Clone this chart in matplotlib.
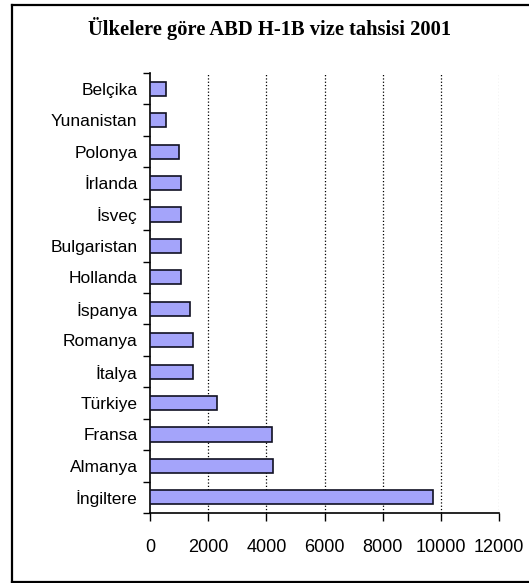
import numpy as np
import matplotlib
matplotlib.use('Agg')
import matplotlib.pyplot as plt
from matplotlib.lines import Line2D

# Datos (de arriba a abajo)
ulkeler = ['Belçika', 'Yunanistan', 'Polonya', 'İrlanda', 'İsveç', 'Bulgaristan',
           'Hollanda', 'İspanya', 'Romanya', 'İtalya', 'Türkiye', 'Fransa',
           'Almanya', 'İngiltere']
vizeler = [550, 550, 1000, 1060, 1060, 1060, 1060, 1380, 1490, 1490, 2310, 4180,
           4230, 9720]
x_ticks = [0, 2000, 4000, 6000, 8000, 10000, 12000]

plt.rcParams['font.family'] = ['Liberation Sans', 'DejaVu Sans']

fig = plt.figure(figsize=(5.29, 5.83), dpi=100)
ax = fig.add_axes([150/529, 1 - 513/583, 349/529, 440/583])

y = np.arange(len(ulkeler))
ax.barh(y, vizeler, height=0.45, color='#a4a4fa', edgecolor='#111122', linewidth=1.2, zorder=3)
ax.set_ylim(len(ulkeler) - 0.5, -0.5)
ax.set_xlim(0, 12000)

# etiquetas centradas en cada banda, ticks en los bordes
ax.set_yticks(np.arange(-0.5, len(ulkeler), 1))
ax.set_yticklabels([])
ax.set_yticks(y, minor=True)
ax.set_yticklabels(ulkeler, minor=True, fontsize=12.5)
ax.tick_params(axis='y', which='minor', length=0, pad=9)
ax.tick_params(axis='y', which='major', length=5, width=1, direction='out')

ax.set_xticks(x_ticks)
ax.set_xticklabels([str(v) for v in x_ticks], fontsize=13)
ax.tick_params(axis='x', length=6, width=1, direction='out', pad=13)

for v in x_ticks[1:]:
    ax.axvline(v, color='black' if v < 12000 else '#aaaaaa', linestyle=':', linewidth=0.9, zorder=1)

for s in ['top', 'right']:
    ax.spines[s].set_visible(False)
ax.spines['left'].set_linewidth(1.2)
ax.spines['bottom'].set_linewidth(1.2)

fig.text(270/529, 1 - 28/583, 'Ülkelere göre ABD H-1B vize tahsisi 2001', ha='center', va='center',
         fontsize=14.8, fontweight='bold', family='Liberation Serif')

# marco exterior
x0, y0, y1 = 12/529, 1 - 582/583, 1 - 5/583
for xs, ys in [([x0, 1.01], [y1, y1]), ([x0, x0], [y0, y1]), ([x0, 1.01], [y0, y0])]:
    fig.add_artist(Line2D(xs, ys, color='black', linewidth=1.6, transform=fig.transFigure))

fig.savefig('out.png', dpi=100)
